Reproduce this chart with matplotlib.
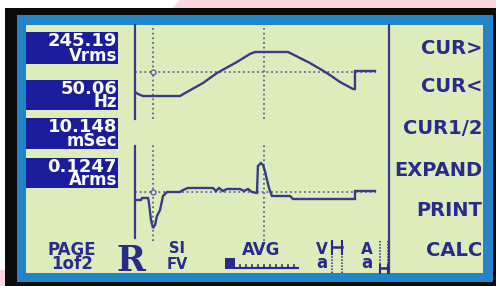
import matplotlib
matplotlib.use("Agg")
import matplotlib.pyplot as plt
from matplotlib.patches import Rectangle, Polygon

# readings shown in the left boxes
box_values = ["245.19", "50.06", "10.148", "0.1247"]
box_units = ["Vrms", "Hz", "mSec", "Arms"]

# soft keys on the right
menu_labels = ["CUR>", "CUR<", "CUR1/2", "EXPAND", "PRINT", "CALC"]

# voltage trace (time in ms, volts)
v_time = [0.00, 0.27, 0.73, 4.11, 4.75, 6.22, 7.50, 9.32, 10.51, 10.97,
          13.99, 15.08, 15.99, 17.09, 17.82, 18.74, 19.93, 20.11, 20.11, 21.94]
v_vals = [-324, -356, -389, -389, -324, -178, -16, 162, 292, 324,
          324, 227, 146, 32, -49, -162, -275, -275, 16, 16]

# current trace (time in ms, amps)
i_time = [0.00, 0.55, 0.64, 1.19, 1.28, 1.46, 1.65, 1.83, 2.01, 2.29,
          2.56, 2.93, 4.11, 4.39, 4.84, 7.13, 7.40, 7.68, 8.04, 8.41,
          9.60, 9.96, 10.33, 10.69, 11.15, 11.24, 11.52, 11.70, 11.88, 12.07,
          12.25, 12.52, 14.17, 14.44, 20.11, 20.11, 21.94]
i_vals = [-0.08, -0.08, -0.06, -0.06, -0.11, -0.28, -0.36, -0.33, -0.24, -0.18,
          -0.04, 0.00, 0.00, 0.02, 0.04, 0.04, 0.01, 0.04, 0.01, 0.03,
          0.03, 0.01, 0.03, 0.00, -0.01, 0.26, 0.29, 0.27, 0.21, 0.12,
          0.04, -0.04, -0.04, -0.07, -0.07, 0.01, 0.01]

cursor1 = 1.65          # ms
cursor_dt = 10.148      # ms, shown in box 3
t_span = 23.13          # ms across the plot area
v_lim = 761
i_lim = 0.46
meter_levels = [0.8, 0.15]  # V and A level bars

GREEN = "#DEEBBB"
FRAME = "#2385C8"
NAVY = "#1B1D9C"
INK = "#272C8C"
TRACE = "#373C86"
DOT = "#5A63A2"

W, H = 496, 286
fig = plt.figure(figsize=(W / 100, H / 100), dpi=100)
fig.patch.set_facecolor("white")
ax = fig.add_axes([0, 0, 1, 1])
ax.set_xlim(0, W)
ax.set_ylim(H, 0)
ax.axis("off")

# surroundings and bezel
ax.add_patch(Polygon([(172, 8), (180, 0), (W, 0), (W, 8)], color="#FAD6DE", lw=0))
ax.add_patch(Rectangle((0, 270), 6, 16, color="#FAD6DE", lw=0))
ax.add_patch(Rectangle((5, 8), W, H, color="#0B0B0B", lw=0))
ax.add_patch(Rectangle((17, 15), 476, 267, color=FRAME, lw=0))
ax.add_patch(Rectangle((26, 25), 457, 248, color=GREEN, lw=0))

# right separator
ax.plot([388.5, 388.5], [25, 273], color=TRACE, lw=1.6)

# value boxes
box_rows = [(32, 64), (80, 110), (118, 149), (158, 188)]
for (y0, y1), val, unit in zip(box_rows, box_values, box_units):
    ax.add_patch(Rectangle((26, y0), 92, y1 - y0, color=NAVY, lw=0))
    ax.text(117, y0, val, color="white", fontsize=13, fontweight="bold",
            ha="right", va="top", family="DejaVu Sans")
    ax.text(117, y1 + 1, unit, color="white", fontsize=12, fontweight="bold",
            ha="right", va="bottom", family="DejaVu Sans")

# soft key labels
menu_y = [48, 87, 128, 170, 211, 251]
for y, lab in zip(menu_y, menu_labels):
    ax.text(482, y, lab, color=INK, fontsize=14, fontweight="bold",
            ha="right", va="center", family="DejaVu Sans")

# bottom status line
ax.text(72, 241, "PAGE", color=INK, fontsize=12, fontweight="bold",
        ha="center", va="top")
ax.text(72, 273, "1of2", color=INK, fontsize=12, fontweight="bold",
        ha="center", va="bottom")
ax.text(131, 271, "R", color=INK, fontsize=25, fontweight="bold",
        ha="center", va="baseline", family="DejaVu Serif")
ax.text(177, 241, "SI", color=INK, fontsize=10.5, fontweight="bold",
        ha="center", va="top")
ax.text(177, 272, "FV", color=INK, fontsize=10.5, fontweight="bold",
        ha="center", va="bottom")
ax.text(261, 241, "AVG", color=INK, fontsize=12, fontweight="bold",
        ha="center", va="top")
ax.text(322, 242, "V", color=INK, fontsize=11, fontweight="bold",
        ha="center", va="top")
ax.text(322, 272, "a", color=INK, fontsize=12, fontweight="bold",
        ha="center", va="bottom")
ax.text(367, 242, "A", color=INK, fontsize=11, fontweight="bold",
        ha="center", va="top")
ax.text(367, 272, "a", color=INK, fontsize=12, fontweight="bold",
        ha="center", va="bottom")

# averaging progress bar
ax.add_patch(Rectangle((225, 258), 10, 11, color=INK, lw=0))
ax.plot([235, 298], [268, 268], color=INK, lw=1.5)
for x in range(240, 299, 6):
    ax.plot([x, x], [268, 264.5], color=INK, lw=1.2)

# level meters
for (x0, x1), lev in zip([(332, 342), (380, 388)], meter_levels):
    top, bot = 241, 273
    yl = bot - lev * (bot - top)
    for x in (x0, x1):
        ax.plot([x, x], [top, bot], color=INK, lw=1.1, ls=(0, (1, 1)))
        if lev > 0.5:
            ax.plot([x, x], [top, yl + 7], color=INK, lw=1.5)
        else:
            ax.plot([x, x], [yl - 3, bot], color=INK, lw=1.5)
    ax.plot([x0, x1], [yl, yl], color=INK, lw=1.8)


def px_axes(x0, y0, x1, y1):
    a = fig.add_axes([x0 / W, 1 - y1 / H, (x1 - x0) / W, (y1 - y0) / H])
    a.patch.set_alpha(0)
    a.set_xticks([])
    a.set_yticks([])
    for s in ("top", "right", "bottom"):
        a.spines[s].set_visible(False)
    a.spines["left"].set_color(TRACE)
    a.spines["left"].set_linewidth(1.6)
    return a


dotted = dict(color=DOT, lw=1.3, ls=(0, (1, 1.6)))

ax_v = px_axes(135, 25, 388, 119)
ax_v.set_xlim(0, t_span)
ax_v.set_ylim(-v_lim, v_lim)
ax_v.hlines(0, 0, 22.0, **dotted)
for t in (cursor1, cursor1 + cursor_dt):
    ax_v.axvline(t, **dotted)
ax_v.plot(v_time, v_vals, color=TRACE, lw=1.7, solid_joinstyle="miter")
ax_v.plot([cursor1], [0], "o", ms=3.5, mfc=GREEN, mec=DOT, mew=1)

ax_i = px_axes(135, 146, 388, 238)
ax_i.set_xlim(0, t_span)
ax_i.set_ylim(-i_lim, i_lim)
ax_i.hlines(0, 0, 22.0, **dotted)
for t in (cursor1, cursor1 + cursor_dt):
    ax_i.axvline(t, ymin=-0.03, ymax=1.03, clip_on=False, **dotted)
ax_i.plot(i_time, i_vals, color=TRACE, lw=1.7, solid_joinstyle="miter")
ax_i.plot([cursor1], [0], "o", ms=3.5, mfc=GREEN, mec=DOT, mew=1)

fig.savefig("out.png", dpi=100)
